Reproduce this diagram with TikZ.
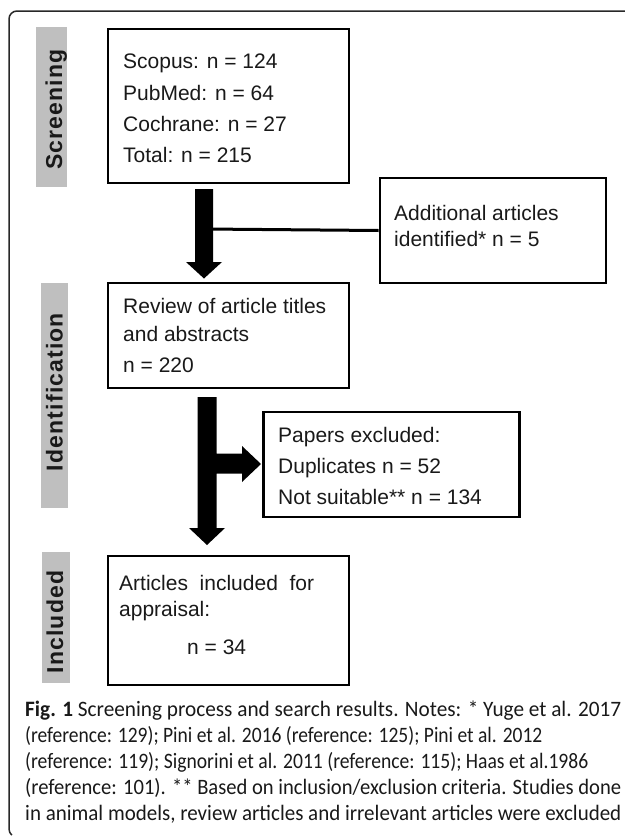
\documentclass[tikz,border=0pt]{standalone}
\usepackage{fontspec}
\usepackage{graphicx}
\setmainfont{Liberation Sans}
\newfontfamily\capfont{Carlito}
\newfontfamily\lblfont{Liberation Sans}[LetterSpace=5]
\usetikzlibrary{calc}
\definecolor{lblgray}{RGB}{191,191,191}
\definecolor{framecol}{RGB}{40,40,40}
\newcommand{\capline}[2]{\resizebox{#1}{\height}{#2}}
\begin{document}
\begin{tikzpicture}[x=1bp,y=-1bp,
  box/.style={draw=black, line width=2.8bp, rectangle, inner sep=0pt},
  lblbar/.style={fill=lblgray, draw=none, rectangle, inner sep=0pt},
  lbltxt/.style={rotate=90, anchor=base, inner sep=0pt, text=black!90, font=\lblfont\fontsize{23bp}{27bp}\selectfont\bfseries},
  txt/.style={anchor=base west, inner sep=0pt, text=black!90, font=\fontsize{21bp}{25bp}\selectfont},
  captxt/.style={anchor=base west, inner sep=0pt, text=black!90, font=\capfont\fontsize{22bp}{26bp}\selectfont},
  blockarrow/.style={fill=black, draw=none},
  link/.style={draw=black, line width=3bp}]
\useasboundingbox (0,0) rectangle (625,837);

% outer frame
\draw[framecol, line width=1.5bp] (625,11) -- (17,11) arc[start angle=270, end angle=180, radius=8] -- (9,829) arc[start angle=180, end angle=130, radius=8];

% stage labels
\node[lblbar, minimum width=31bp, minimum height=160bp] (barS) at (51.5,107) {};
\node[lbltxt] (labS) at (62,109.5) {Screening};
\node[lblbar, minimum width=27bp, minimum height=225bp] (barI) at (54.5,395.5) {};
\node[lbltxt] (labI) at (62.5,392) {Identification};
\node[lblbar, minimum width=28bp, minimum height=131bp] (barC) at (56,617.5) {};
\node[lbltxt] (labC) at (63,622) {Included};

% boxes
\node[box, minimum width=241bp, minimum height=154bp] (scopus) at (228.5,106) {};
\node[box, minimum width=226bp, minimum height=105bp] (add) at (493,230.5) {};
\node[box, minimum width=241bp, minimum height=105bp] (review) at (228.5,335.5) {};
\node[box, minimum width=256bp, minimum height=105bp] (papers) at (391.5,464.5) {};
\node[box, minimum width=241bp, minimum height=129bp] (articles) at (228.5,620.5) {};

% box texts
\node[txt] (t1) at (123,68) {Scopus: n = 124};
\node[txt] (t2) at (123,100) {PubMed: n = 64};
\node[txt] (t3) at (123,131) {Cochrane: n = 27};
\node[txt] (t4) at (123,162) {Total: n = 215};

\node[txt] (t5) at (394,220.5) {Additional articles};
\node[txt] (t6) at (394,246.5) {identified* n = 5};

\node[txt] (t7) at (123,313) {Review of article titles};
\node[txt] (t8) at (123,341) {and abstracts};
\node[txt] (t9) at (123,372) {n = 220};

\node[txt] (t10) at (278,442.5) {Papers excluded:};
\node[txt] (t11) at (278,473.5) {Duplicates n = 52};
\node[txt] (t12) at (278,504) {Not suitable** n = 134};

\node[txt] (t13) at (119,590) {\makebox[195bp][s]{Articles included for}};
\node[txt] (t14) at (119,616) {appraisal:};
\node[txt] (t15) at (187,654) {n = 34};

% connectors
\coordinate (j1) at (204,229);
\draw[link] (add.west) -- (j1);
\fill[blockarrow] (195,189) -- (213,189) -- (213,262) -- (222,262) -- (204,278.5) -- (186,262) -- (195,262) -- cycle;
\fill[blockarrow] (197.5,397) -- (216.5,397) -- (216.5,453.5) -- (242,453.5) -- (242,446) -- (261,464) -- (242,482) -- (242,473.5) -- (216.5,473.5) -- (216.5,528) -- (225,528) -- (207,545) -- (189,528) -- (197.5,528) -- cycle;

% caption
\node[captxt] (c1) at (25,716) {\capline{596bp}{\textbf{Fig. 1} Screening process and search results. Notes: * Yuge et al. 2017}};
\node[captxt] (c2) at (25,742) {\capline{517bp}{(reference: 129); Pini et al. 2016 (reference: 125); Pini et al. 2012}};
\node[captxt] (c3) at (25,768) {\capline{563bp}{(reference: 119); Signorini et al. 2011 (reference: 115); Haas et al.1986}};
\node[captxt] (c4) at (25,794) {\capline{596bp}{(reference: 101). ** Based on inclusion/exclusion criteria. Studies done}};
\node[captxt] (c5) at (25,820) {\capline{596bp}{in animal models, review articles and irrelevant articles were excluded}};
\end{tikzpicture}
\end{document}
